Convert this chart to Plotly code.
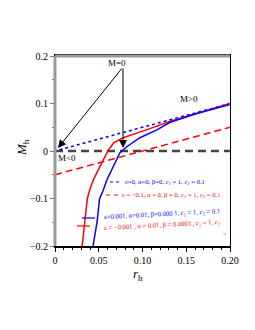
import plotly.graph_objects as go

# ---- data ----
r_dotted = [0.005, 0.2]
M_dotted = [0.0025, 0.1]            # eps=0, alpha=0, beta=0
r_dashed = [0.0, 0.2]
M_dashed = [-0.05, 0.05]            # eps=-0.1
r_blue = [0.0435, 0.048, 0.051, 0.055, 0.059, 0.066, 0.074, 0.082, 0.097, 0.117, 0.131, 0.16, 0.2]
M_blue = [-0.2, -0.15, -0.1, -0.083, -0.062, -0.034, -0.004, 0.009, 0.028, 0.045, 0.06, 0.078, 0.098]
r_red = [0.031, 0.034, 0.037, 0.040, 0.044, 0.051, 0.061, 0.067, 0.078, 0.105, 0.131, 0.16, 0.2]
M_red = [-0.2, -0.15, -0.1, -0.08, -0.06, -0.034, 0.002, 0.017, 0.028, 0.045, 0.062, 0.078, 0.1]
r_zero = [0.0, 0.2]
M_zero = [0.0, 0.0]

x_ticks = [0, 0.05, 0.10, 0.15, 0.20]
x_ticklabels = ["0", "0.05", "0.10", "0.15", "0.20"]
y_ticks = [-0.2, -0.1, 0, 0.1, 0.2]
y_ticklabels = ["\u22120.2", "\u22120.1", "0", "0.1", "0.2"]

legend_texts = [
    "\u03b5=0, \u03b1=0, \u03b2=0, <i>c</i><sub>1</sub> = 1, <i>c</i><sub>2</sub> = 0.1",
    "\u03b5 = \u22120.1, \u03b1 = 0, \u03b2 = 0, <i>c</i><sub>1</sub> = 1, <i>c</i><sub>2</sub> = 0.1",
    "\u03b5=0.001, \u03b1=0.01, \u03b2=0.000 1, <i>c</i><sub>1</sub> = 1, <i>c</i><sub>2</sub> = 0.1",
    "\u03b5 = \u22120.001 , \u03b1 = 0.01, \u03b2 = 0.0003 , <i>c</i><sub>1</sub> = 1, <i>c</i><sub>2</sub>",
]

FONT = "Liberation Serif"
BLUE = "#0000ff"
RED = "#ff0000"

fig = go.Figure()
fig.add_trace(go.Scatter(x=r_zero, y=M_zero, mode="lines",
                         line=dict(color="#444444", width=2.5, dash="8px,5px")))
fig.add_trace(go.Scatter(x=r_dotted, y=M_dotted, mode="lines",
                         line=dict(color=BLUE, width=1.5, dash="dot")))
fig.add_trace(go.Scatter(x=r_dashed, y=M_dashed, mode="lines",
                         line=dict(color=RED, width=1.5, dash="7px,4px")))
fig.add_trace(go.Scatter(x=r_red, y=M_red, mode="lines",
                         line=dict(color=RED, width=1.5)))
fig.add_trace(go.Scatter(x=r_blue, y=M_blue, mode="lines",
                         line=dict(color=BLUE, width=1.5)))

OFF = 8  # page body margin
W, H = 255, 330
L, T = 55 - OFF, 56 - OFF
pw, ph = 175, 190
R = W - L - pw
B = H - T - ph


def px(xp):
    return (xp - OFF - L) / pw


def py(yp):
    return (T + ph - (yp - OFF)) / ph


shapes = [
    dict(type="line", xref="paper", yref="paper", x0=0, x1=0, y0=0, y1=1,
         line=dict(color="#999999", width=3), layer="above"),
    dict(type="line", xref="paper", yref="paper", x0=0, x1=1, y0=1, y1=1,
         line=dict(color="#999999", width=3), layer="above"),
    # legend samples
    dict(type="line", xref="paper", yref="paper", x0=px(110), x1=px(122), y0=py(182), y1=py(182),
         line=dict(color=BLUE, width=1.2, dash="dot")),
    dict(type="line", xref="paper", yref="paper", x0=px(106), x1=px(119), y0=py(195), y1=py(195),
         line=dict(color=RED, width=1.2, dash="4px,4px")),
    dict(type="line", xref="paper", yref="paper", x0=px(82), x1=px(95), y0=py(218), y1=py(218),
         line=dict(color=BLUE, width=1.2)),
    dict(type="line", xref="paper", yref="paper", x0=px(77), x1=px(90), y0=py(226), y1=py(226),
         line=dict(color=RED, width=1.2)),
]


def label(xp, yp, text, size, color="black", angle=0, xanchor="center"):
    return dict(x=px(xp), y=py(yp), xref="paper", yref="paper", text=text,
                showarrow=False, xanchor=xanchor, yanchor="middle", textangle=angle,
                font=dict(family=FONT, size=size, color=color))


annotations = [
    label(123, 182, legend_texts[0], 6.6, BLUE, xanchor="left"),
    label(120, 195, legend_texts[1], 6.6, RED, xanchor="left"),
    label(102, 214, legend_texts[2], 6.6, BLUE, angle=-3, xanchor="left"),
    label(102, 225, legend_texts[3], 6.6, RED, angle=-3, xanchor="left"),
    label(225, 234, "=", 6, "#ff6666"),
    # region labels
    label(117, 63, "M=0", 9),
    label(189, 99, "M>0", 9),
    label(67, 158, "M<0", 9),
    # arrows
    dict(x=px(58), y=py(148), xref="x domain", yref="y domain",
         ax=px(123), ay=py(67), axref="x domain", ayref="y domain", text="",
         showarrow=True, arrowhead=2, arrowsize=1.6, arrowwidth=1, arrowcolor="black"),
    dict(x=px(123), y=py(148), xref="x domain", yref="y domain",
         ax=px(123), ay=py(67), axref="x domain", ayref="y domain", text="",
         showarrow=True, arrowhead=2, arrowsize=1.6, arrowwidth=1, arrowcolor="black"),
    # axis titles
    label(138, 274, "<i>r</i><sub>h</sub>", 13),
    label(22, 148, "<i>M</i><sub>h</sub>", 13, angle=-90),
]

fig.update_layout(
    width=W, height=H,
    margin=dict(l=L, r=R, t=T, b=B, autoexpand=False),
    paper_bgcolor="white", plot_bgcolor="white",
    showlegend=False,
    shapes=shapes, annotations=annotations,
    xaxis=dict(range=[0, 0.2], tickvals=x_ticks, ticktext=x_ticklabels,
               showgrid=False, zeroline=False, showline=True, linecolor="black",
               linewidth=1.5, mirror=True, ticks="outside", ticklen=4, tickcolor="black",
               minor=dict(dtick=0.01, ticks="outside", ticklen=2, tickcolor="black"),
               tickfont=dict(family=FONT, size=10, color="black")),
    yaxis=dict(range=[-0.2, 0.2], tickvals=y_ticks, ticktext=y_ticklabels,
               showgrid=False, zeroline=False, showline=True, linecolor="black",
               linewidth=1, mirror=True, ticks="outside", ticklen=4, tickcolor="#777777",
               minor=dict(dtick=0.05, ticks="outside", ticklen=2, tickcolor="#777777"),
               tickfont=dict(family=FONT, size=10, color="black")),
)

fig.write_html("out.html")
